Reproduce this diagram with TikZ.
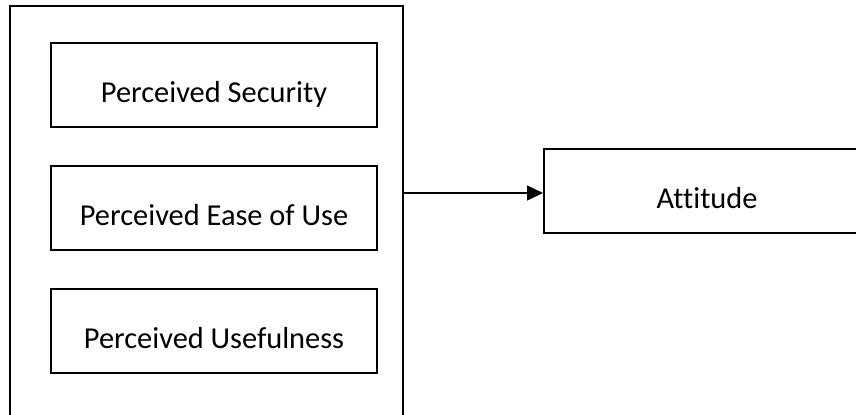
\documentclass[tikz,border=0pt]{standalone}
\usepackage{fontspec}
\setmainfont{Carlito}[Ligatures=NoCommon]
\usetikzlibrary{positioning,arrows.meta}
\tikzset{
  factor/.style={draw, line width=1pt, minimum width=163pt, minimum height=42pt, inner sep=0pt,
    text height=17pt, text depth=0pt},
}
\begin{document}
\begin{tikzpicture}[x=0.5pt, y=-0.5pt, font=\fontsize{15.2}{18}\selectfont, >={Triangle[length=8pt,width=7.5pt]}]
			% --- Khung hình ---
			\useasboundingbox (0,0) rectangle (856,414);
			\clip (0,0) rectangle (856,414);
			% --- Khung ngoài ---
			\draw[line width=1pt] (10,6) rectangle (403,440);
			\coordinate (R) at (403,193);
			% --- Các yếu tố ---
			\node[factor] (sec) at (214,85) {Perceived Security};
			\node[factor, below=18.5pt of sec] (ease) {Perceived Ease of Use};
			\node[factor, below=18.5pt of ease] (use) {Perceived Usefulness};
			\node[factor, anchor=west] (att) at (543,191) {Attitude};
			% --- Mũi tên ---
			\draw[->, line width=0.7pt] (R) -- (R -| att.west);
	\end{tikzpicture}
\end{document}
